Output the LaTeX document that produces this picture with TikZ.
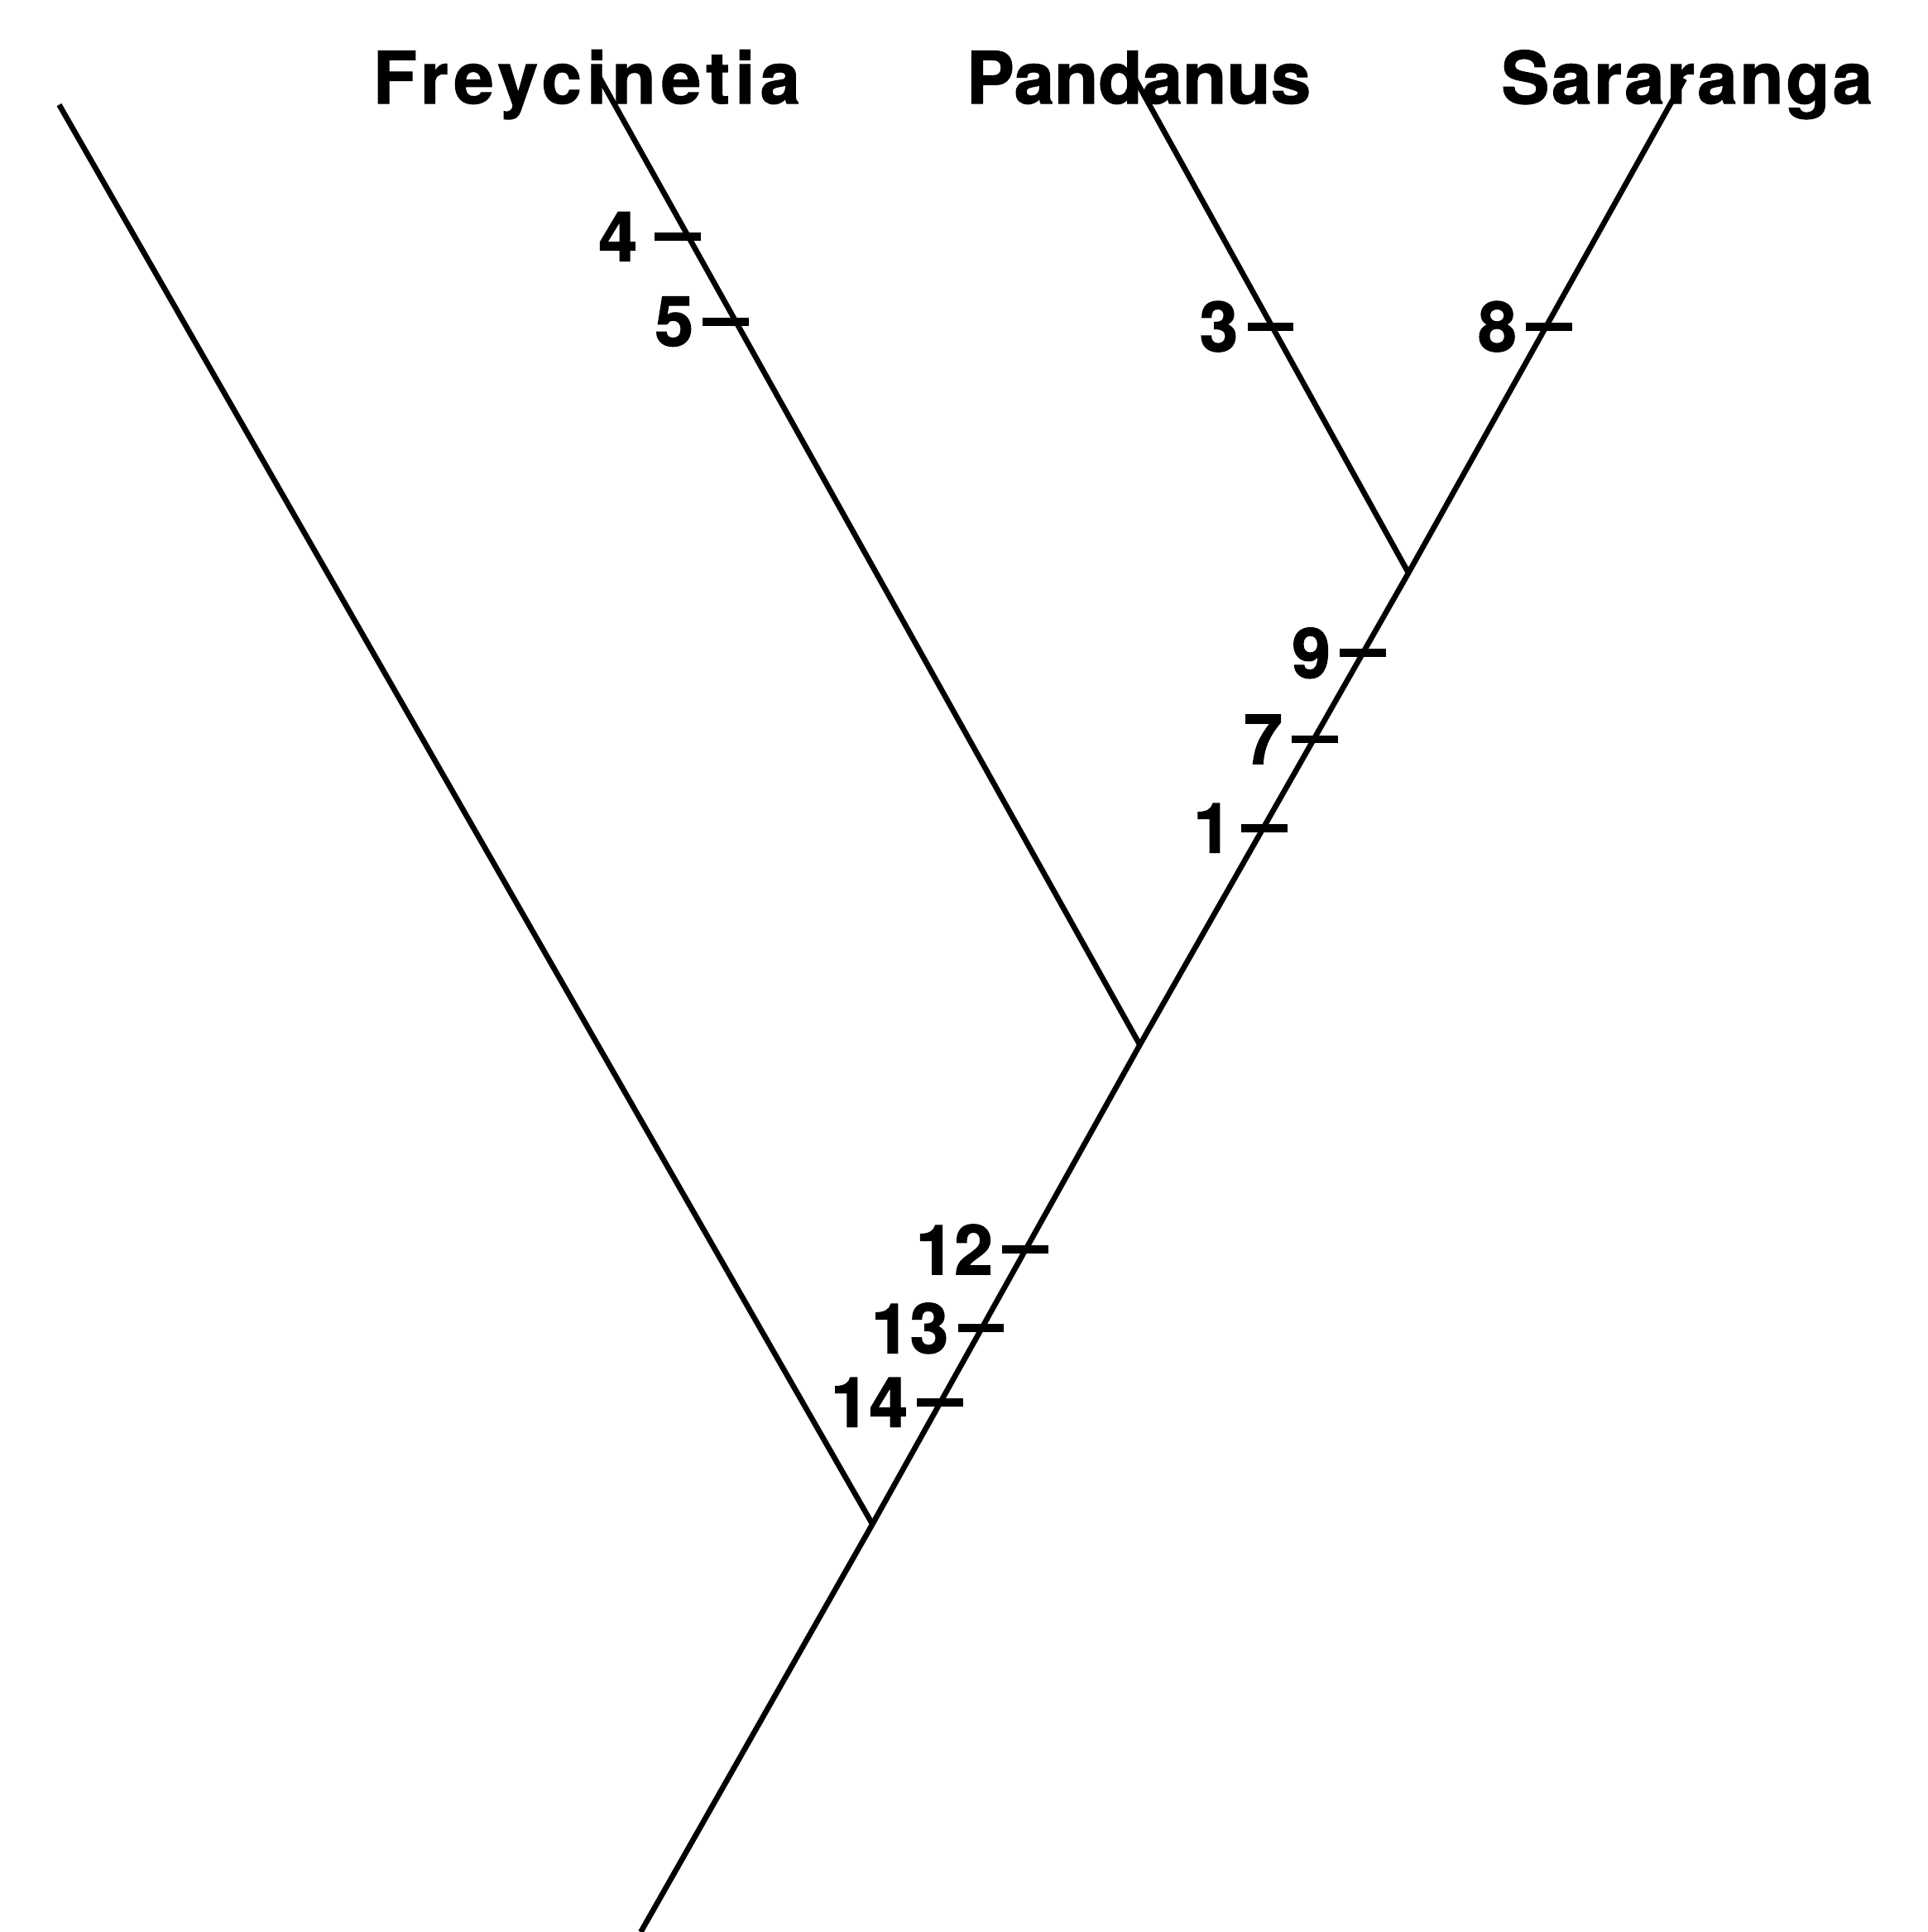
\documentclass[tikz,border=0pt]{standalone}
\usepackage{fontspec}
\setmainfont{TeX Gyre Heros}
\usetikzlibrary{positioning}

\begin{document}
\begin{tikzpicture}[
    x=0.15mm, y=-0.15mm,
    branch/.style={line width=1.9pt},
    taxon/.style={font=\fontsize{25}{30}\selectfont\bfseries\addfontfeature{FakeBold=1.2}, inner sep=0pt, anchor=base},
    tick/.style={fill=black, minimum width=5.6mm, minimum height=1mm, inner sep=0pt},
    apo/.style={font=\fontsize{24}{28}\selectfont\bfseries\addfontfeature{FakeBold=1.5}, inner sep=0pt, left=1mm of #1}
]
    \useasboundingbox (0,0) rectangle (1564,1568);

    % taxa
    \node[taxon] (freytx) at (476,84) {\addfontfeature{LetterSpace=7}Freycinetia};
    \node[taxon] (pandtx) at (924,84) {Pandanus};
    \node[taxon] (saratx) at (1369,84) {\addfontfeature{LetterSpace=3}Sararanga};

    % branch ends and splits
    \coordinate (base) at (520,1568);
    \coordinate (root) at (708,1237);
    \coordinate (split2) at (925,848);
    \coordinate (split3) at (1143,465);
    \coordinate (outg) at (48,85);
    \coordinate (frey) at (486,62);
    \coordinate (pand) at (920,62);
    \coordinate (sara) at (1367,64);

    \draw[branch] (base) -- (root) -- (split2) -- (split3) -- (sara);
    \draw[branch] (root) -- (outg);
    \draw[branch] (split2) -- (frey);
    \draw[branch] (split3) -- (pand);

    % character changes
    \node[tick] (t4) at (550,192) {};
    \node[tick] (t5) at (589,261) {};
    \node[tick] (t3) at (1031,265) {};
    \node[tick] (t8) at (1257,265) {};
    \node[tick] (t9) at (1106,530) {};
    \node[tick] (t7) at (1067,600) {};
    \node[tick] (t1) at (1026,672) {};
    \node[tick] (t12) at (832,1014) {};
    \node[tick] (t13) at (796,1078) {};
    \node[tick] (t14) at (763,1138) {};

    \node[apo=t4, xshift=-1mm] (c4) {4};
    \node[apo=t5] (c5) {5};
    \node[apo=t3] (c3) {3};
    \node[apo=t8] (c8) {8};
    \node[apo=t9] (c9) {9};
    \node[apo=t7] (c7) {7};
    \node[apo=t1] (c1) {1};
    \node[apo=t12] (c12) {12};
    \node[apo=t13] (c13) {13};
    \node[apo=t14] (c14) {14};
\end{tikzpicture}
\end{document}
